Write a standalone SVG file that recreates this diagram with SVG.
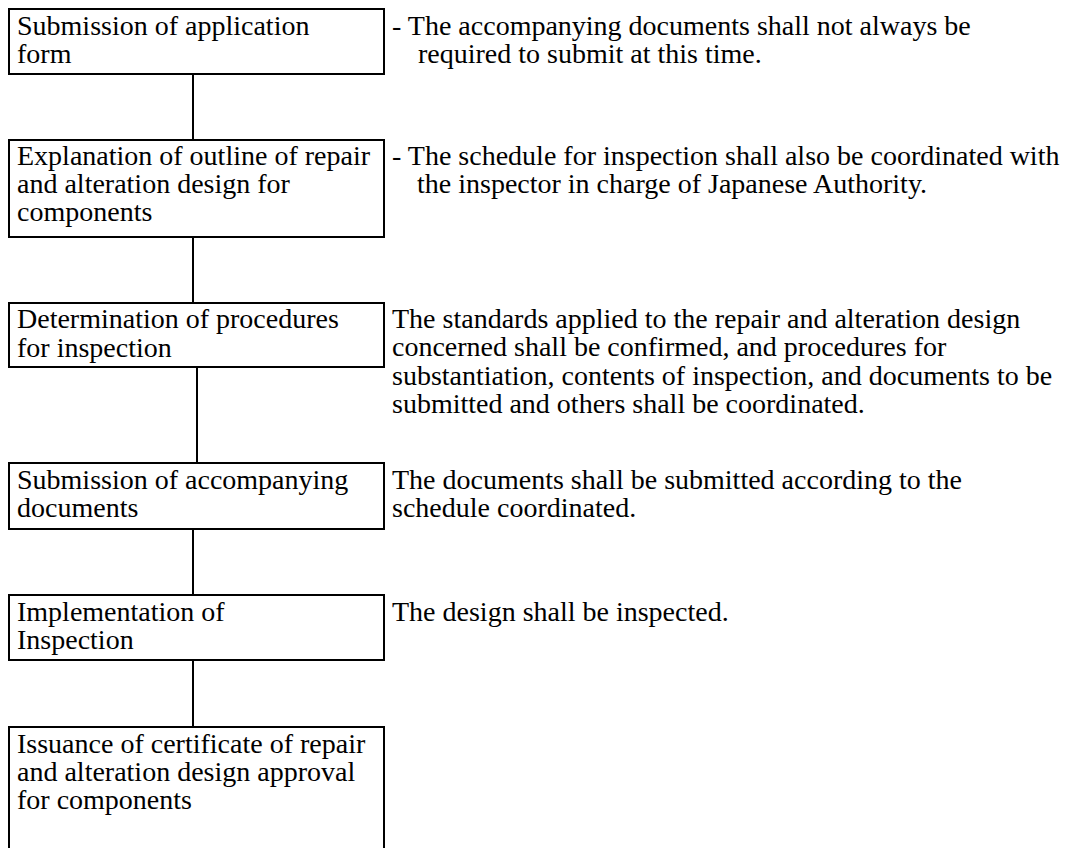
<svg xmlns="http://www.w3.org/2000/svg" width="1067" height="848" viewBox="0 0 1067 848">
  <style>
    .box { fill: #ffffff; stroke: #000000; stroke-width: 2; }
    .link { fill: none; stroke: #000000; stroke-width: 2; }
    text { font-family: "Liberation Serif", "Times New Roman", Times, serif; font-size: 28px; fill: #000000; }
  </style>
  <rect width="1067" height="848" fill="#ffffff"/>

  <!-- connectors between process steps -->
  <g id="connectors">
    <line class="link" x1="193" y1="74" x2="193" y2="140"/>
    <line class="link" x1="193" y1="237" x2="193" y2="303"/>
    <line class="link" x1="197" y1="367" x2="197" y2="463"/>
    <line class="link" x1="193" y1="529" x2="193" y2="595"/>
    <line class="link" x1="193" y1="660" x2="193" y2="727"/>
  </g>

  <g id="step1">
    <rect class="box" x="9" y="9" width="375" height="65"/>
    <text x="17" y="35">Submission of application</text>
    <text x="17" y="63">form</text>
  </g>
  <g id="note1">
    <text x="392" y="35">- The accompanying documents shall not always be</text>
    <text x="418" y="63">required to submit at this time.</text>
  </g>

  <g id="step2">
    <rect class="box" x="9" y="140" width="375" height="97"/>
    <text x="17" y="165">Explanation of outline of repair</text>
    <text x="17" y="193">and alteration design for</text>
    <text x="17" y="221">components</text>
  </g>
  <g id="note2">
    <text x="392" y="165">- The schedule for inspection shall also be coordinated with</text>
    <text x="417" y="193">the inspector in charge of Japanese Authority.</text>
  </g>

  <g id="step3">
    <rect class="box" x="9" y="303" width="375" height="64"/>
    <text x="17" y="328">Determination of procedures</text>
    <text x="17" y="357">for inspection</text>
  </g>
  <g id="note3">
    <text x="392" y="328">The standards applied to the repair and alteration design</text>
    <text x="392" y="356">concerned shall be confirmed, and procedures for</text>
    <text x="392" y="385">substantiation, contents of inspection, and documents to be</text>
    <text x="392" y="413">submitted and others shall be coordinated.</text>
  </g>

  <g id="step4">
    <rect class="box" x="9" y="463" width="375" height="66"/>
    <text x="17" y="489">Submission of accompanying</text>
    <text x="17" y="517">documents</text>
  </g>
  <g id="note4">
    <text x="392" y="489">The documents shall be submitted according to the</text>
    <text x="392" y="517">schedule coordinated.</text>
  </g>

  <g id="step5">
    <rect class="box" x="9" y="595" width="375" height="65"/>
    <text x="17" y="621">Implementation of</text>
    <text x="17" y="649">Inspection</text>
  </g>
  <g id="note5">
    <text x="392" y="621">The design shall be inspected.</text>
  </g>

  <g id="step6">
    <rect class="box" x="9" y="727" width="375" height="140"/>
    <text x="17" y="753">Issuance of certificate of repair</text>
    <text x="17" y="781">and alteration design approval</text>
    <text x="17" y="809">for components</text>
  </g>
</svg>
